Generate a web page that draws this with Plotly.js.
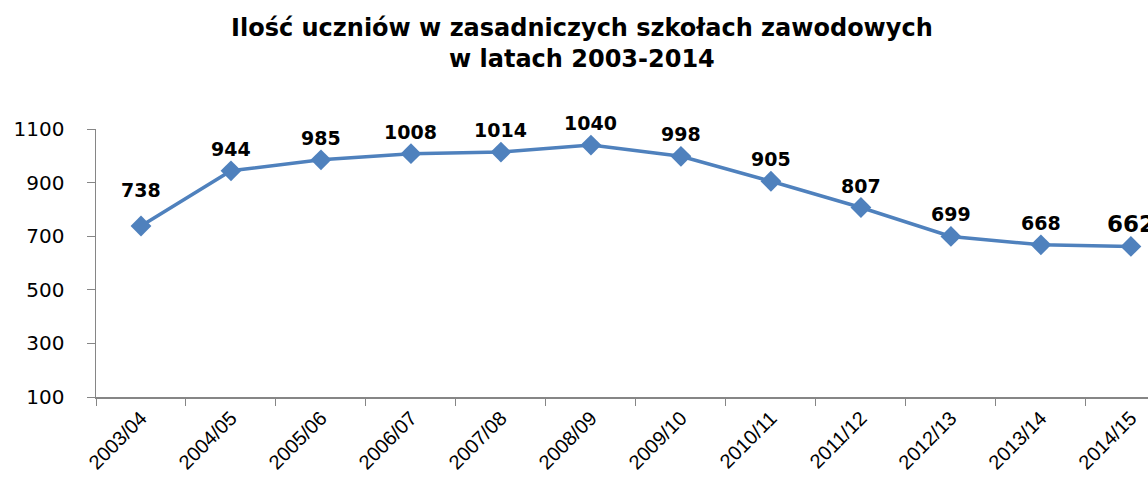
<!DOCTYPE html>
<html>
<head>
<meta charset="utf-8">
<script src="https://cdn.plot.ly/plotly-3.0.1.min.js"></script>
<style>html,body{margin:0;padding:0;background:#fff;}#chart{width:1148px;height:484px;}</style>
</head>
<body>
<div id="chart"></div>
<script>
const categories = ["2003/04","2004/05","2005/06","2006/07","2007/08","2008/09","2009/10","2010/11","2011/12","2012/13","2013/14","2014/15"];
const students = [738, 944, 985, 1008, 1014, 1040, 998, 905, 807, 699, 668, 662];
const yTicks = [100, 300, 500, 700, 900, 1100];
const titleText = "Ilość uczniów w zasadniczych szkołach zawodowych<br>w latach 2003-2014";

const lineColor = "#4F81BD";
const axisColor = "#868686";

const trace = {
  x: categories,
  y: students,
  type: "scatter",
  mode: "lines+markers",
  line: {color: lineColor, width: 3.5},
  marker: {symbol: "diamond", size: 16, color: lineColor},
  cliponaxis: false,
  hoverinfo: "x+y"
};

const annotations = categories.map((c, i) => ({
  x: c,
  y: students[i],
  text: String(students[i]),
  showarrow: false,
  yshift: i === 0 ? 36 : 22,
  xanchor: "center",
  yanchor: "middle",
  font: {family: "DejaVu Sans, Verdana, sans-serif", size: i === categories.length - 1 ? 23 : 19, color: "#000", weight: "bold"}
}));

annotations.push({
  xref: "paper", yref: "paper",
  x: 0.462, y: 1 + (129 - 43) / 268,
  xanchor: "center", yanchor: "middle",
  showarrow: false,
  text: titleText,
  align: "center",
  font: {family: "DejaVu Sans, Verdana, sans-serif", size: 24, color: "#000", weight: "bold"}
});

const layout = {
  width: 1148,
  height: 484,
  margin: {l: 96, r: 0, t: 129, b: 87, pad: 0},
  paper_bgcolor: "#fff",
  plot_bgcolor: "#fff",
  showlegend: false,
  xaxis: {
    type: "category",
    range: [-0.5, 11.19],
    tickangle: -45,
    tickson: "boundaries",
    ticks: "outside",
    ticklen: 7,
    tickcolor: axisColor,
    showline: true,
    linecolor: axisColor,
    linewidth: 1.5,
    showgrid: false,
    zeroline: false,
    tickfont: {family: "Liberation Sans, Arial, sans-serif", size: 20, color: "#000"}
  },
  yaxis: {
    range: [100, 1100],
    tickvals: yTicks,
    ticks: "outside",
    ticklen: 8,
    tickcolor: axisColor,
    ticklabelstandoff: 18,
    showline: true,
    linecolor: axisColor,
    linewidth: 1.5,
    showgrid: false,
    zeroline: false,
    tickfont: {family: "DejaVu Sans, Verdana, sans-serif", size: 20, color: "#000"}
  },
  annotations: annotations
};

Plotly.newPlot("chart", [trace], layout, {displayModeBar: false, staticPlot: true});
</script>
</body>
</html>
